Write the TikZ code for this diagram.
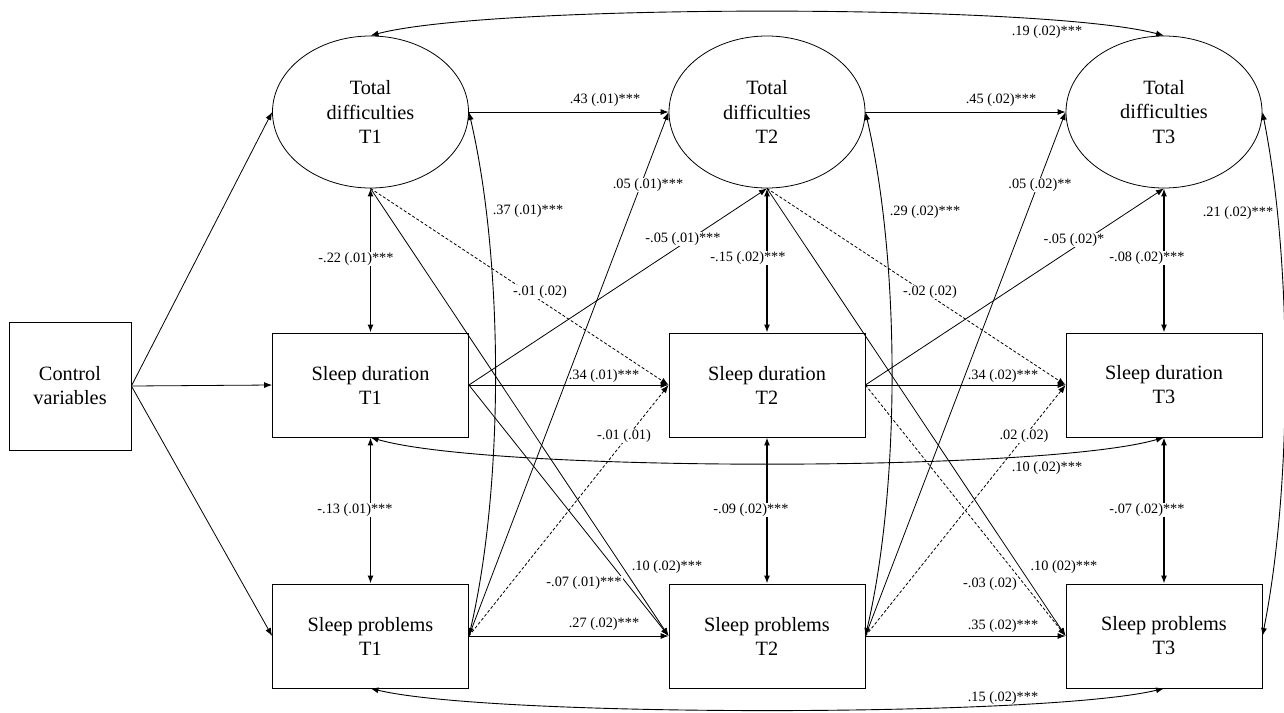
\documentclass[tikz,border=0pt]{standalone}
\usepackage{fontspec}
\setmainfont{Liberation Serif}
\usepackage{tikz}
\usetikzlibrary{arrows.meta,shapes.geometric}
\tikzset{% 
  latent/.style={%
    ellipse,
    draw,
    line width=0.8pt,
    minimum width=196pt,
    minimum height=152pt,
    inner sep=0pt,
    align=center,
    font=\fontsize{20.3}{24.5}\selectfont
  }
}
\tikzset{% 
  observed/.style={%
    rectangle,
    draw,
    line width=0.8pt,
    minimum width=196pt,
    minimum height=104pt,
    inner sep=0pt,
    align=center,
    font=\fontsize{20.3}{24}\selectfont
  }
}
\tikzset{% 
  regression/.style={%
    line width=0.8pt,
    -{Latex[length=8pt,width=6pt]}
  }
}
\tikzset{% 
  not significant/.style={%
    regression,
    dash pattern=on 3pt off 2pt
  }
}
\tikzset{% 
  within time/.style={%
    line width=1.5pt,
    {Latex[length=8pt,width=6pt]}-{Latex[length=8pt,width=6pt]}
  }
}
\tikzset{% 
  covariance/.style={%
    line width=0.9pt,
    {Latex[length=8pt,width=6pt]}-{Latex[length=8pt,width=6pt]}
  }
}
\tikzset{% 
  coefficient/.style={%
    font=\fontsize{14.3}{16}\selectfont,
    inner sep=1pt
  }
}
\tikzset{% 
  coefficient on path/.style={%
    coefficient,
    fill=white
  }
}
\begin{document}
\begin{tikzpicture}[x=1pt,y=-1pt]
  \useasboundingbox (0,0) rectangle (1284,712);
  \node [observed, minimum width=122pt, minimum height=128pt] (ctrl) at (70,386) {Control\\variables};
  \node [latent] (td1) at (370.5,112) {Total\\difficulties\\T1};
  \node [latent] (td2) at (767,112) {Total\\difficulties\\T2};
  \node [latent] (td3) at (1164,112) {Total\\difficulties\\T3};
  \node [observed] (sd1) at (370.5,385) {Sleep duration\\T1};
  \node [observed] (sd2) at (767,385) {Sleep duration\\T2};
  \node [observed] (sd3) at (1164,385) {Sleep duration\\T3};
  \node [observed] (sp1) at (370.5,636) {Sleep problems\\T1};
  \node [observed] (sp2) at (767,636) {Sleep problems\\T2};
  \node [observed] (sp3) at (1164,636) {Sleep problems\\T3};
  % control variables
  \draw [regression] (ctrl.east) -- (td1.west);
  \draw [regression] (ctrl.east) -- (sd1.west);
  \draw [regression] (ctrl.east) -- (sp1.west);
  % stability paths
  \draw [regression] (td1.east) -- (td2.west);
  \draw [regression] (td2.east) -- (td3.west);
  \draw [regression] (sd1.east) -- (sd2.west);
  \draw [regression] (sd2.east) -- (sd3.west);
  \draw [regression] (sp1.east) -- (sp2.west);
  \draw [regression] (sp2.east) -- (sp3.west);
  % cross-lagged paths
  \draw [not significant] (td1.south) -- (sd2.west);
  \draw [regression] (td1.south) -- (sp2.west);
  \draw [regression] (sd1.east) -- (td2.south);
  \draw [regression] (sd1.east) -- (sp2.west);
  \draw [regression] (sp1.east) -- (td2.west);
  \draw [not significant] (sp1.east) -- (sd2.west);
  \draw [not significant] (td2.south) -- (sd3.west);
  \draw [regression] (td2.south) -- (sp3.west);
  \draw [regression] (sd2.east) -- (td3.south);
  \draw [not significant] (sd2.east) -- (sp3.west);
  \draw [regression] (sp2.east) -- (td3.west);
  \draw [not significant] (sp2.east) -- (sd3.west);
  % within time
  \draw [within time] (td1.south) -- (sd1.north);
  \draw [within time] (sd1.south) -- (sp1.north);
  \draw [within time] (td2.south) -- (sd2.north);
  \draw [within time] (sd2.south) -- (sp2.north);
  \draw [within time] (td3.south) -- (sd3.north);
  \draw [within time] (sd3.south) -- (sp3.north);
  \draw [covariance] (td1.east) .. controls +(35,150) and +(35,-150) .. (sp1.east);
  \draw [covariance] (td2.east) .. controls +(35,150) and +(35,-150) .. (sp2.east);
  \draw [covariance] (td3.east) .. controls +(30,150) and +(30,-150) .. (sp3.east);
  % T1 with T3
  \draw [covariance] (td1.north) .. controls +(120,-32) and +(-120,-32) .. (td3.north);
  \draw [covariance] (sd1.south) .. controls +(120,35) and +(-120,35) .. (sd3.south);
  \draw [covariance] (sp1.south) .. controls +(120,29) and +(-120,29) .. (sp3.south);
  % coefficients
  \node [coefficient] (b-td12) at (605,100) {.43 (.01)***};
  \node [coefficient] (b-td23) at (1001,100) {.45 (.02)***};
  \node [coefficient] (b-td13) at (1047,32) {.19 (.02)***};
  \node [coefficient] (b-tdsp1) at (528,211) {.37 (.01)***};
  \node [coefficient] (b-tdsp2) at (925,212) {.29 (.02)***};
  \node [coefficient] (b-tdsp3) at (1238,213) {.21 (.02)***};
  \node [coefficient] (b-sd12) at (604,376) {.34 (.01)***};
  \node [coefficient] (b-sd23) at (1003,376) {.34 (.02)***};
  \node [coefficient] (b-sd13) at (1047,468) {.10 (.02)***};
  \node [coefficient] (b-sp12) at (604,624) {.27 (.02)***};
  \node [coefficient] (b-sp23) at (1003,626) {.35 (.02)***};
  \node [coefficient] (b-sp13) at (1003,698) {.15 (.02)***};
  \node [coefficient on path] (b-tdsd1) at (356,259) {-.22 (.01)***};
  \node [coefficient on path] (b-tdsd2) at (748,258) {-.15 (.02)***};
  \node [coefficient on path] (b-tdsd3) at (1147,258) {-.08 (.02)***};
  \node [coefficient on path] (b-sdsp1) at (355,510) {-.13 (.01)***};
  \node [coefficient on path] (b-sdsp2) at (751,510) {-.09 (.02)***};
  \node [coefficient on path] (b-sdsp3) at (1147,510) {-.07 (.02)***};
  \node [coefficient on path] (b-sptd12) at (648,185) {.05 (.01)***};
  \node [coefficient on path] (b-sdtd12) at (683,239) {-.05 (.01)***};
  \node [coefficient on path] (b-tdsd12) at (540,292) {-.01 (.02)};
  \node [coefficient on path] (b-spsd12) at (624,436) {-.01 (.01)};
  \node [coefficient on path] (b-tdsp12) at (667,567) {.10 (.02)***};
  \node [coefficient on path] (b-sdsp12) at (584,583) {-.07 (.01)***};
  \node [coefficient on path] (b-sptd23) at (1040,185) {.05 (.02)**};
  \node [coefficient on path] (b-sdtd23) at (1074,240) {-.05 (.02)*};
  \node [coefficient on path] (b-tdsd23) at (930,292) {-.02 (.02)};
  \node [coefficient on path] (b-spsd23) at (1024,436) {.02 (.02)};
  \node [coefficient on path] (b-tdsp23) at (1064,567) {.10 (02)***};
  \node [coefficient on path] (b-sdsp23) at (990,584) {-.03 (.02)};
\end{tikzpicture}
\end{document}
